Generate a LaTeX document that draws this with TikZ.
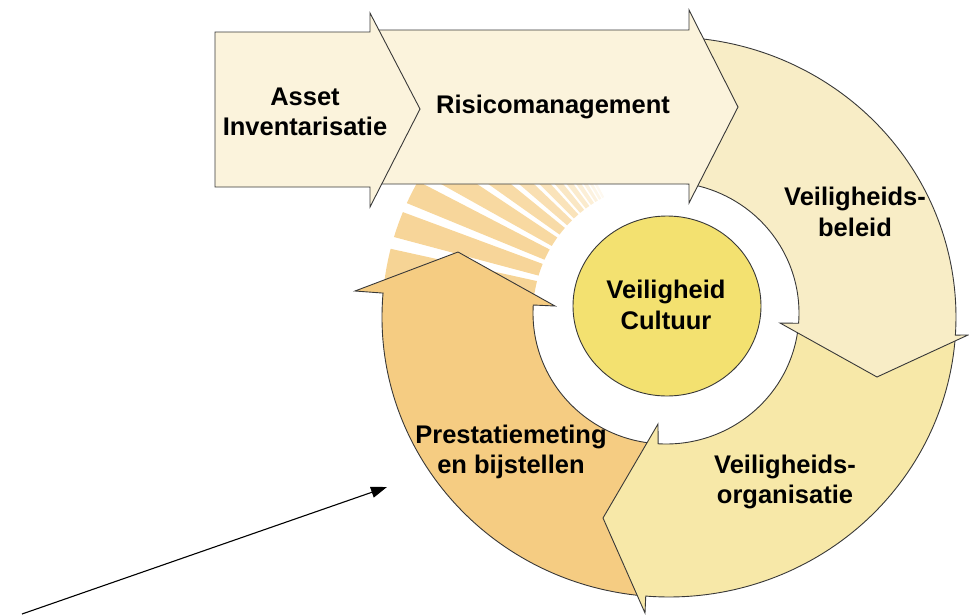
\documentclass[tikz,border=0pt]{standalone}
\usepackage{fontspec}
\setmainfont{Liberation Sans}
\usetikzlibrary{arrows.meta,shapes.geometric}
\definecolor{edge}{HTML}{383838}
\definecolor{cCream}{HTML}{FBF3DC}
\definecolor{cBel}{HTML}{F8EDC6}
\definecolor{cOrg}{HTML}{F7E8A8}
\definecolor{cPre}{HTML}{F5CC82}
\definecolor{cCul}{HTML}{F3E170}
\tikzset{
  shapeline/.style={draw=edge, line width=0.9pt, line join=miter},
  lbl/.style={font=\fontsize{25.5}{30.5}\selectfont\bfseries, align=center, text=black, inner sep=0pt},
}
\begin{document}
\begin{tikzpicture}[x=1pt,y=1pt]
\useasboundingbox (0,0) rectangle (969,-614);

% fading stripes (behind everything)
\foreach \a/\b/\o in {195/165.9/0.85, 163.4/158.0/0.82, 156.0/151.0/0.8, 149.2/144.8/0.75, 143.2/139.5/0.7, 138.0/135.0/0.62, 133.8/131.2/0.55, 130.2/128.0/0.47, 127.1/125.2/0.4, 124.4/122.8/0.32, 122.1/120.8/0.25, 120.2/119.1/0.18, 118.6/117.7/0.12}{
  \path[fill=cPre, fill opacity=\o] ({669+287*cos(\a)},{-317+280*sin(\a)})
    arc[start angle=\a, end angle=\b, x radius=287, y radius=280]
    -- ({666+133*cos(\b)},{-313+131*sin(\b)})
    arc[start angle=\b, end angle=\a, x radius=133, y radius=131] -- cycle;
}

% Prestatiemeting en bijstellen
\path[shapeline, fill=cPre] ({666+133*cos(-95)},{-313+131*sin(-95)})
  -- ({669+287*cos(-95.5)},{-317+280*sin(-95.5)})
  arc[start angle=-95.5, end angle=-184.9, x radius=287, y radius=280]
  -- (355,-291) -- (458,-252) -- (555,-306)
  -- ({666+133*cos(176.5)},{-313+131*sin(176.5)})
  arc[start angle=176.5, end angle=265, x radius=133, y radius=131] -- cycle;

% Veiligheidsorganisatie
\path[shapeline, fill=cOrg] ({666+133*cos(-7)},{-313+131*sin(-7)})
  -- ({669+287*cos(-4.5)},{-317+280*sin(-4.5)})
  arc[start angle=-4.5, end angle=-94.65, x radius=287, y radius=280]
  -- (645,-613) -- (603,-518) -- (658,-424)
  -- ({666+133*cos(-93.4)},{-313+131*sin(-93.4)})
  arc[start angle=-93.4, end angle=-7, x radius=133, y radius=131] -- cycle;

% Veiligheidsbeleid
\path[shapeline, fill=cBel] ({669+287*cos(95)},{-317+280*sin(95)})
  arc[start angle=95, end angle=-3.7, x radius=287, y radius=280]
  -- (968,-335) -- (877,-377) -- (780,-323)
  -- ({666+133*cos(-4.5)},{-313+131*sin(-4.5)})
  arc[start angle=-4.5, end angle=95, x radius=133, y radius=131] -- cycle;

% Risicomanagement arrow
\path[shapeline, fill=cCream] (375,-30) -- (689,-30) -- (689,-10) -- (738,-107)
  -- (689,-203) -- (689,-184) -- (375,-184) -- cycle;

% Asset Inventarisatie arrow
\path[shapeline, fill=cCream] (215,-32) -- (370,-32) -- (370,-13) -- (420,-109)
  -- (370,-207) -- (370,-187) -- (215,-187) -- cycle;

% centre
\node[ellipse, shapeline, fill=cCul, minimum width=188pt, minimum height=180pt, inner sep=0pt] (cul) at (667,-306) {};

% labels
\node[lbl] (asset) at (305,-112) {Asset\\Inventarisatie};
\node[lbl] (risico) at (553,-107) {Risicomanagement};
\node[lbl] (beleid) at (855,-212) {Veiligheids-\\beleid};
\node[lbl] (cultuur) at (666,-305) {Veiligheid\\Cultuur};
\node[lbl] (organ) at (785,-482) {Veiligheids-\\organisatie};
\node[lbl] (prest) at (511,-452) {Prestatiemeting\\en bijstellen};

% pointer
\coordinate (ptrS) at (22,-614);
\coordinate (ptrE) at (387,-487);
\draw[line width=1.1pt, -{Triangle[length=16pt,width=11pt]}] (ptrS) -- (ptrE);
\end{tikzpicture}
\end{document}
